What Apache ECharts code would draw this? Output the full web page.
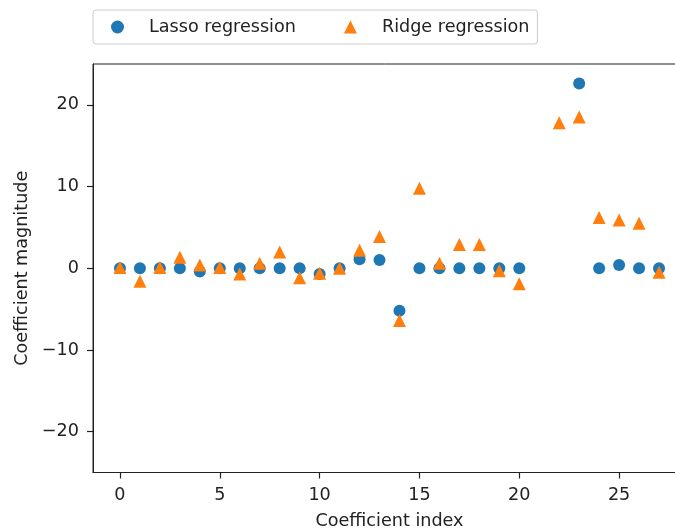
<!DOCTYPE html>
<html>
<head>
<meta charset="utf-8">
<script src="https://cdn.jsdelivr.net/npm/echarts@6/dist/echarts.min.js"></script>
<style>
  html, body { margin: 0; padding: 0; background: #fff; }
  #chart { width: 675px; height: 531px; }
</style>
</head>
<body>
<div id="chart"></div>
<script>
var coefIndex = [0, 1, 2, 3, 4, 5, 6, 7, 8, 9, 10, 11, 12, 13, 14, 15, 16, 17, 18, 19, 20, 21, 22, 23, 24, 25, 26, 27];
var lassoCoef = [0, 0, 0, 0, -0.4, 0, 0, 0, 0, 0, -0.7, 0, 1.1, 1.0, -5.2, 0, 0, 0, 0, 0, 0, null, null, 22.6, 0, 0.4, 0, 0];
var ridgeCoef = [0.1, -1.6, 0.1, 1.35, 0.4, 0.1, -0.7, 0.6, 2.0, -1.15, -0.6, 0.0, 2.2, 3.9, -6.4, 9.8, 0.6, 2.9, 2.9, -0.3, -1.9, null, 17.8, 18.5, 6.2, 5.9, 5.5, -0.5];
var xTicks = [0, 5, 10, 15, 20, 25];
var yTicks = [-20, -10, 0, 10, 20];

function pairs(vals) {
  var out = [];
  coefIndex.forEach(function (i, k) {
    if (vals[k] !== null) out.push([i, vals[k]]);
  });
  return out;
}

var dom = document.getElementById('chart');
var myChart = echarts.init(dom);
var font = 'DejaVu Sans';
var fs = 17.6;
var ink = '#222';
var option = {
  animation: false,
  backgroundColor: '#fff',
  textStyle: { fontFamily: font },
  legend: {
    left: 93,
    top: 10,
    orient: 'horizontal',
    padding: [8, 8, 8, 18],
    itemWidth: 13,
    itemHeight: 13,
    itemGap: 48,
    borderColor: '#cccccc',
    borderWidth: 1,
    borderRadius: 3,
    textStyle: { fontFamily: font, fontSize: fs, color: ink, lineHeight: 17, padding: [0, 0, 0, 20] },
    data: [
      { name: 'Lasso regression', icon: 'circle' },
      { name: 'Ridge regression', icon: 'triangle' }
    ]
  },
  grid: {
    left: 93,
    right: -11,
    top: 64,
    bottom: 58.5,
    containLabel: false,
    outerBoundsMode: 'none',
    show: true,
    borderColor: ink,
    borderWidth: 1,
    backgroundColor: 'transparent'
  },
  xAxis: {
    type: 'value',
    min: -1.35,
    max: 28.35,
    name: 'Coefficient index',
    nameLocation: 'middle',
    nameGap: 40,
    nameTextStyle: { fontFamily: font, fontSize: fs, color: ink },
    splitLine: { show: false },
    axisLine: { show: true, onZero: false, lineStyle: { color: ink, width: 1 } },
    axisTick: { show: true, inside: false, length: 6, lineStyle: { color: ink, width: 1.2 }, customValues: xTicks },
    axisLabel: { fontFamily: font, fontSize: fs, color: ink, margin: 14, customValues: xTicks }
  },
  yAxis: {
    type: 'value',
    min: -25,
    max: 25,
    name: 'Coefficient magnitude',
    nameLocation: 'middle',
    nameRotate: 90,
    nameGap: 51,
    nameTextStyle: { fontFamily: font, fontSize: fs, color: ink },
    splitLine: { show: false },
    axisLine: { show: true, onZero: false, lineStyle: { color: ink, width: 1 } },
    axisTick: { show: true, inside: false, length: 6, lineStyle: { color: ink, width: 1.2 }, customValues: yTicks },
    axisLabel: {
      fontFamily: font, fontSize: fs, color: ink, margin: 14, customValues: yTicks,
      formatter: function (v) { return v < 0 ? '\u2212' + Math.abs(v) : String(v); }
    }
  },
  series: [
    {
      name: 'Lasso regression',
      type: 'scatter',
      symbol: 'circle',
      symbolSize: 12,
      itemStyle: { color: '#1f77b4', opacity: 1 },
      data: pairs(lassoCoef)
    },
    {
      name: 'Ridge regression',
      type: 'scatter',
      symbol: 'triangle',
      symbolSize: 13,
      itemStyle: { color: '#ff7f0e', opacity: 1 },
      data: pairs(ridgeCoef)
    }
  ]
};
myChart.setOption(option, true);
</script>
</body>
</html>
